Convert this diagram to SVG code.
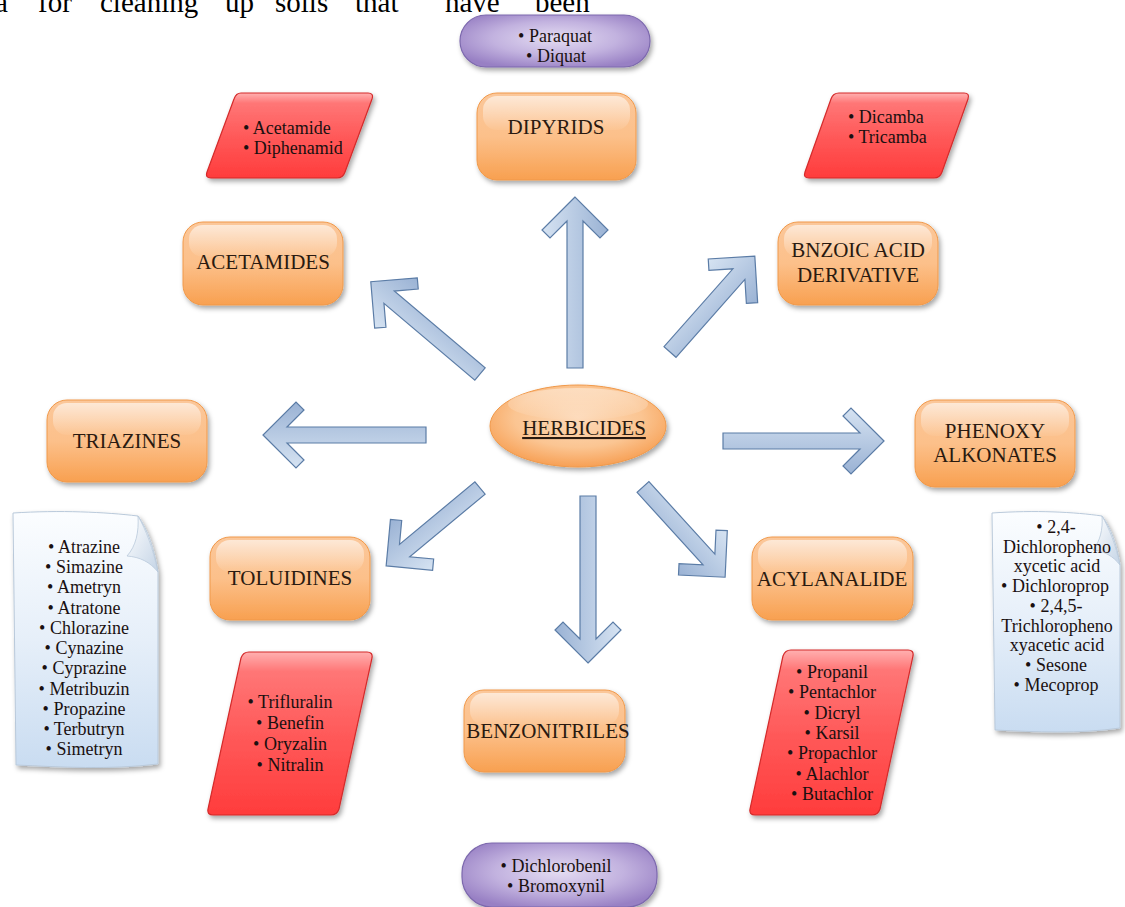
<svg xmlns="http://www.w3.org/2000/svg" width="1125" height="907" viewBox="0 0 1125 907">
<defs>
<style>
.lbl{font-family:"Liberation Serif","Times New Roman",serif;font-size:21px;fill:#2a1a10;text-anchor:middle}
.lst{font-family:"Liberation Serif","Times New Roman",serif;font-size:18px;fill:#1a1010}
.c{text-anchor:middle}
.box{fill:url(#gOr);stroke:#f0994a;stroke-width:1}
.gloss{fill:url(#gGloss)}
.red{fill:url(#gRed);stroke:#d42a2a;stroke-width:1.2}
.pur{fill:url(#gPur);stroke:#7c68ad;stroke-width:1.2}
.paper{fill:url(#gPaper);stroke:#b9c9da;stroke-width:1}
.curl{fill:url(#gCurl);stroke:#b9c9da;stroke-width:0.8}
.arr{fill:url(#gArr);stroke:#5b7ca6;stroke-width:1.2}
.top{font-family:"Liberation Serif","Times New Roman",serif;font-size:29px;fill:#000}
</style>
<linearGradient id="gOr" x1="0" y1="0" x2="0" y2="1">
<stop offset="0" stop-color="#fbc79a"/>
<stop offset="0.5" stop-color="#fcc08a"/>
<stop offset="1" stop-color="#f8a050"/>
</linearGradient>
<linearGradient id="gGloss" x1="0" y1="0" x2="0" y2="1">
<stop offset="0" stop-color="#ffffff" stop-opacity="0.6"/>
<stop offset="1" stop-color="#ffffff" stop-opacity="0.05"/>
</linearGradient>
<linearGradient id="gRed" x1="0" y1="0" x2="0" y2="1">
<stop offset="0" stop-color="#ffb0b0"/>
<stop offset="0.12" stop-color="#ff7676"/>
<stop offset="0.5" stop-color="#ff5a5a"/>
<stop offset="1" stop-color="#ff3c3c"/>
</linearGradient>
<radialGradient id="gPur" cx="0.5" cy="0.45" r="0.6">
<stop offset="0" stop-color="#e4dcf2"/>
<stop offset="0.55" stop-color="#c2b2df"/>
<stop offset="1" stop-color="#9880c4"/>
</radialGradient>
<linearGradient id="gPaper" x1="0" y1="0" x2="0" y2="1">
<stop offset="0" stop-color="#fbfdff"/>
<stop offset="0.5" stop-color="#e6eff9"/>
<stop offset="1" stop-color="#c9dcf1"/>
</linearGradient>
<linearGradient id="gCurl" x1="0" y1="0" x2="1" y2="1">
<stop offset="0" stop-color="#ffffff"/>
<stop offset="1" stop-color="#c4d4e6"/>
</linearGradient>
<linearGradient id="gArr" gradientUnits="userSpaceOnUse" x1="0" y1="-33" x2="0" y2="33">
<stop offset="0" stop-color="#d6e3f2"/>
<stop offset="1" stop-color="#9ab2d4"/>
</linearGradient>
<radialGradient id="gEll" cx="0.5" cy="0.4" r="0.6">
<stop offset="0" stop-color="#fdd9b8"/>
<stop offset="0.6" stop-color="#fbc592"/>
<stop offset="1" stop-color="#f7a055"/>
</radialGradient>
<filter id="sh" x="-20%" y="-20%" width="140%" height="150%">
<feDropShadow dx="2" dy="3" stdDeviation="2.5" flood-color="#000" flood-opacity="0.35"/>
</filter>
</defs>

<rect width="1125" height="907" fill="#ffffff"/>

<g id="page-text">
<text class="top" x="-5" y="12">a</text>
<text class="top" x="38" y="12">for</text>
<text class="top" x="100" y="12">cleaning</text>
<text class="top" x="225" y="12">up</text>
<text class="top" x="275" y="12">soils</text>
<text class="top" x="355" y="12">that</text>
<text class="top" x="445" y="12">have</text>
<text class="top" x="535" y="12">been</text>
</g>

<g id="connectors">
<polygon class="arr" transform="translate(575,368) rotate(-90)" points="171,0 138,-33 130,-25 147,-8 0,-8 0,8 147,8 130,25 138,33"/>
<polygon class="arr" transform="translate(670,352) rotate(-48.5)" points="128,0 95,-33 87,-25 104,-8 0,-8 0,8 104,8 87,25 95,33"/>
<polygon class="arr" transform="translate(480,374) rotate(-139.8)" points="143,0 110,-33 102,-25 119,-8 0,-8 0,8 119,8 102,25 110,33"/>
<polygon class="arr" transform="translate(426,435) rotate(180)" points="163,0 130,-33 122,-25 139,-8 0,-8 0,8 139,8 122,25 130,33"/>
<polygon class="arr" transform="translate(723,441)" points="161,0 128,-33 120,-25 137,-8 0,-8 0,8 137,8 120,25 128,33"/>
<polygon class="arr" transform="translate(480,488) rotate(140.3)" points="122,0 89,-33 81,-25 98,-8 0,-8 0,8 98,8 81,25 89,33"/>
<polygon class="arr" transform="translate(588,496) rotate(90)" points="167,0 134,-33 126,-25 143,-8 0,-8 0,8 143,8 126,25 134,33"/>
<polygon class="arr" transform="translate(643,487) rotate(47.7)" points="122,0 89,-33 81,-25 98,-8 0,-8 0,8 98,8 81,25 89,33"/>
</g>

<g id="herbicides">
<ellipse cx="578" cy="426" rx="88" ry="41" fill="url(#gEll)" stroke="#f0994a" filter="url(#sh)"/>
<ellipse cx="578" cy="404" rx="70" ry="16" fill="url(#gGloss)" opacity="0.7"/>
<text class="lbl" x="584" y="435" font-size="24" text-decoration="underline">HERBICIDES</text>
</g>

<g id="dipyrids">
<rect class="box" x="477" y="93" width="159" height="87" rx="20" filter="url(#sh)"/>
<rect class="gloss" x="483" y="96" width="147" height="34" rx="14"/>
<text class="lbl" x="556" y="134">DIPYRIDS</text>
</g>
<g id="acetamides">
<rect class="box" x="183" y="222" width="160" height="83" rx="20" filter="url(#sh)"/>
<rect class="gloss" x="189" y="225" width="148" height="32" rx="14"/>
<text class="lbl" x="263" y="269">ACETAMIDES</text>
</g>
<g id="bnzoic">
<rect class="box" x="778" y="222" width="160" height="83" rx="20" filter="url(#sh)"/>
<rect class="gloss" x="784" y="225" width="148" height="32" rx="14"/>
<text class="lbl" x="858" y="257">BNZOIC ACID</text>
<text class="lbl" x="858" y="282">DERIVATIVE</text>
</g>
<g id="triazines">
<rect class="box" x="47" y="400" width="160" height="82" rx="20" filter="url(#sh)"/>
<rect class="gloss" x="53" y="403" width="148" height="32" rx="14"/>
<text class="lbl" x="127" y="448">TRIAZINES</text>
</g>
<g id="phenoxy">
<rect class="box" x="915" y="400" width="160" height="87" rx="20" filter="url(#sh)"/>
<rect class="gloss" x="921" y="403" width="148" height="33" rx="14"/>
<text class="lbl" x="995" y="438">PHENOXY</text>
<text class="lbl" x="995" y="462">ALKONATES</text>
</g>
<g id="toluidines">
<rect class="box" x="210" y="537" width="160" height="83" rx="20" filter="url(#sh)"/>
<rect class="gloss" x="216" y="540" width="148" height="32" rx="14"/>
<text class="lbl" x="290" y="585">TOLUIDINES</text>
</g>
<g id="acylanalide">
<rect class="box" x="752" y="537" width="161" height="83" rx="20" filter="url(#sh)"/>
<rect class="gloss" x="758" y="540" width="149" height="32" rx="14"/>
<text class="lbl" x="832" y="586">ACYLANALIDE</text>
</g>
<g id="benzonitriles">
<rect class="box" x="464" y="690" width="161" height="82" rx="20" filter="url(#sh)"/>
<rect class="gloss" x="470" y="693" width="149" height="32" rx="14"/>
<text class="lbl" x="548" y="738" font-size="20">BENZONITRILES</text>
</g>

<g id="dipyrids-list">
<rect class="pur" x="460" y="15" width="190" height="52" rx="26" filter="url(#sh)"/>
<text class="lst c" x="555" y="42">• Paraquat</text>
<text class="lst c" x="556" y="62">• Diquat</text>
</g>
<g id="benzonitriles-list">
<rect class="pur" x="462" y="843" width="195" height="64" rx="30" filter="url(#sh)"/>
<text class="lst c" x="556" y="872">• Dichlorobenil</text>
<text class="lst c" x="556" y="892">• Bromoxynil</text>
</g>

<g id="acetamides-list">
<path class="red" d="M241,93 L368,93 Q374,93 372,99 L345,172 Q343,178 337,178 L211,178 Q205,178 207,172 L234,99 Q236,93 241,93 Z" filter="url(#sh)"/>
<text class="lst" x="243" y="134">• Acetamide</text>
<text class="lst" x="243" y="154">• Diphenamid</text>
</g>
<g id="bnzoic-list">
<path class="red" d="M839,93 L964,93 Q970,93 968,99 L942,172 Q940,178 934,178 L809,178 Q803,178 805,172 L831,99 Q833,93 839,93 Z" filter="url(#sh)"/>
<text class="lst" x="848" y="123">• Dicamba</text>
<text class="lst" x="848" y="143">• Tricamba</text>
</g>
<g id="toluidines-list">
<path class="red" d="M249,652 L367,652 Q373,652 372,658 L339,809 Q337,815 331,815 L213,815 Q207,815 208,809 L241,658 Q243,652 249,652 Z" filter="url(#sh)"/>
<text class="lst c" x="290" y="708">• Trifluralin</text>
<text class="lst c" x="290" y="729">• Benefin</text>
<text class="lst c" x="290" y="750">• Oryzalin</text>
<text class="lst c" x="290" y="771">• Nitralin</text>
</g>
<g id="acylanalide-list">
<path class="red" d="M791,650 L908,650 Q914,650 913,656 L880,809 Q878,815 872,815 L755,815 Q749,815 750,809 L783,656 Q785,650 791,650 Z" filter="url(#sh)"/>
<text class="lst c" x="832" y="678">• Propanil</text>
<text class="lst c" x="832" y="698">• Pentachlor</text>
<text class="lst c" x="832" y="719">• Dicryl</text>
<text class="lst c" x="832" y="739">• Karsil</text>
<text class="lst c" x="832" y="759">• Propachlor</text>
<text class="lst c" x="832" y="780">• Alachlor</text>
<text class="lst c" x="832" y="800">• Butachlor</text>
</g>

<g id="triazines-list">
<path class="paper" d="M13,513 C60,510 105,512 138,516 C148,530 154,548 158,572 L158,764 C110,770 60,767 16,765 Z" filter="url(#sh)"/>
<path class="curl" d="M138,516 C146,530 153,548 158,572 C150,562 140,557 127,556 C136,546 139,532 138,516 Z"/>
<text class="lst c" x="84" y="553">• Atrazine</text>
<text class="lst c" x="84" y="573">• Simazine</text>
<text class="lst c" x="84" y="593">• Ametryn</text>
<text class="lst c" x="84" y="614">• Atratone</text>
<text class="lst c" x="84" y="634">• Chlorazine</text>
<text class="lst c" x="84" y="654">• Cynazine</text>
<text class="lst c" x="84" y="674">• Cyprazine</text>
<text class="lst c" x="84" y="695">• Metribuzin</text>
<text class="lst c" x="84" y="715">• Propazine</text>
<text class="lst c" x="84" y="735">• Terbutryn</text>
<text class="lst c" x="84" y="755">• Simetryn</text>
</g>
<g id="phenoxy-list">
<path class="paper" d="M992,513 C1035,510 1075,512 1102,516 C1111,528 1117,545 1120,565 L1120,728 C1080,734 1035,732 995,730 Z" filter="url(#sh)"/>
<path class="curl" d="M1102,516 C1109,528 1116,545 1120,565 C1113,556 1104,551 1093,550 C1100,541 1103,530 1102,516 Z"/>
<text class="lst c" x="1056" y="533">• 2,4-</text>
<text class="lst c" x="1057" y="553">Dichloropheno</text>
<text class="lst c" x="1057" y="572">xycetic acid</text>
<text class="lst c" x="1055" y="592">• Dichloroprop</text>
<text class="lst c" x="1056" y="612">• 2,4,5-</text>
<text class="lst c" x="1057" y="632">Trichloropheno</text>
<text class="lst c" x="1057" y="651">xyacetic acid</text>
<text class="lst c" x="1056" y="671">• Sesone</text>
<text class="lst c" x="1056" y="691">• Mecoprop</text>
</g>
</svg>
